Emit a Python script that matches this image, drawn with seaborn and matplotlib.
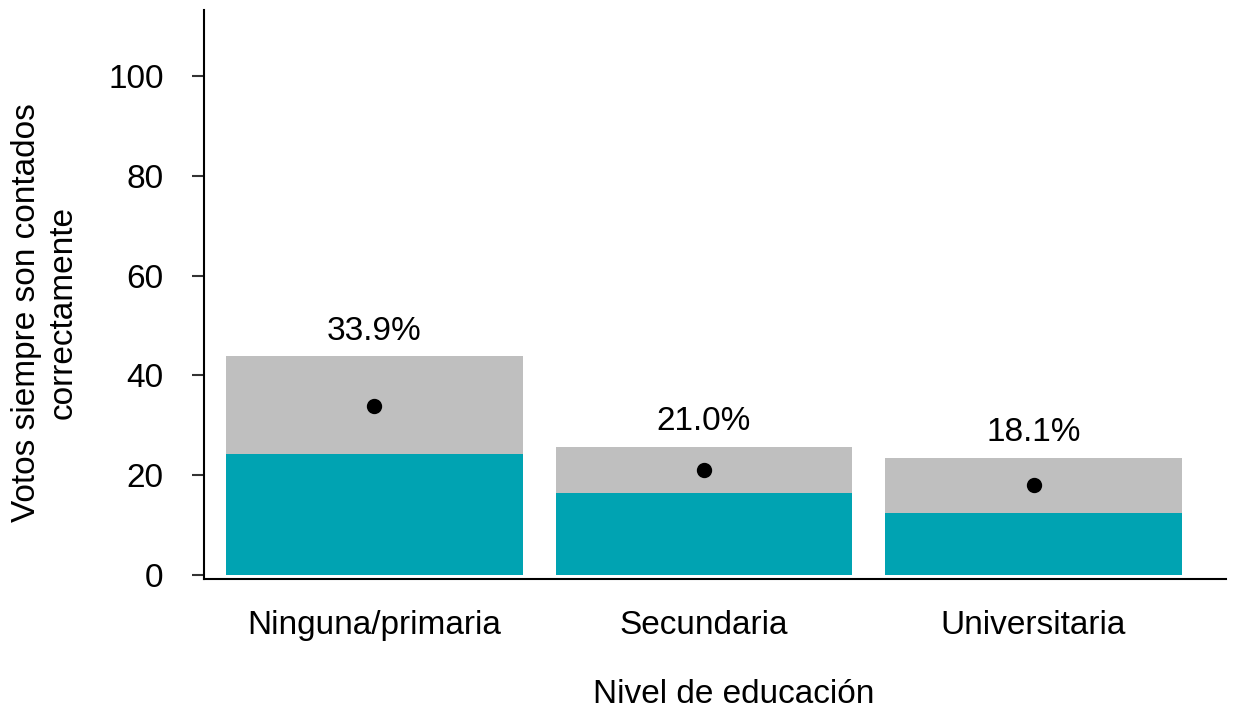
import numpy as np
import pandas as pd
import matplotlib
matplotlib.use("Agg")
import matplotlib.pyplot as plt
import seaborn as sns

# --- data ---
niveles = ["Ninguna/primaria", "Secundaria", "Universitaria"]
media = [33.9, 21.0, 18.1]
ic_inf = [24.2, 16.4, 12.4]
ic_sup = [43.8, 25.7, 23.5]
etiquetas = [f"{v:.1f}%" for v in media]

df = pd.DataFrame({"nivel": niveles, "media": media,
                   "inf": ic_inf, "sup": ic_sup})

sns.set_style("white")
plt.rcParams["font.family"] = ["Liberation Sans", "DejaVu Sans"]
plt.rcParams["text.color"] = "black"
plt.rcParams["axes.labelcolor"] = "black"
plt.rcParams["xtick.color"] = "black"
plt.rcParams["ytick.color"] = "black"

fs = 24

fig = plt.figure(figsize=(12.4, 7.13), dpi=100)
ax = fig.add_axes([0.1645, 0.188, 0.8242, 0.798])

# upper bound (gray) then lower bound (teal) on top
sns.barplot(data=df, x="nivel", y="sup", color="#BFBFBF", width=0.9,
            saturation=1, linewidth=0, ax=ax)
sup_bars = ax.containers[0]
sns.barplot(data=df, x="nivel", y="inf", color="#00A3B2", width=0.9,
            saturation=1, linewidth=0, ax=ax)
sns.pointplot(data=df, x="nivel", y="media", color="black", linestyle="none",
              markers="o", markersize=9, ax=ax)

ax.bar_label(sup_bars, labels=etiquetas, padding=7, fontsize=fs)

ax.set_ylim(-0.8, 113.2)
ax.set_xlim(-0.517, 2.584)
ax.set_yticks([0, 20, 40, 60, 80, 100])

ax.set_xlabel("Nivel de educación", fontsize=fs)
ax.xaxis.set_label_coords(0.518, -0.176)
ax.set_ylabel("Votos siempre son contados\ncorrectamente", fontsize=fs)
ax.yaxis.set_label_coords(-0.123, 0.469)

ax.tick_params(axis="y", length=9, width=1.5, color="#333333", pad=20,
               labelsize=fs, left=True)
ax.tick_params(axis="x", length=0, pad=22, labelsize=fs)

sns.despine(ax=ax)
for side in ["left", "bottom"]:
    ax.spines[side].set_color("black")
    ax.spines[side].set_linewidth(1.5)

fig.savefig("out.png", dpi=100)
